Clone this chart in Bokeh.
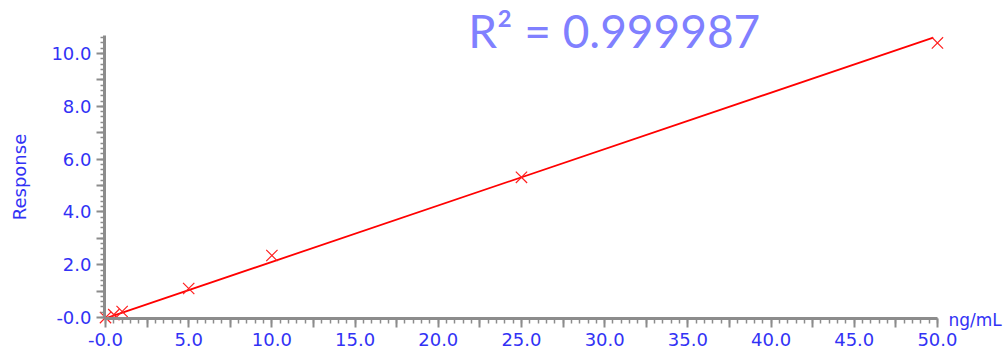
from bokeh.plotting import figure
from bokeh.models import Range1d, FixedTicker, Label, PrintfTickFormatter
from bokeh.embed import file_html
from bokeh.resources import INLINE

# calibration points (concentration ng/mL, response)
conc = [0.0, 0.5, 1.0, 5.0, 10.0, 25.0, 50.0]
response = [0.0, 0.11, 0.23, 1.10, 2.35, 5.31, 10.40]
# regression line ends
fit_x = [0.0, 49.75]
fit_y = [-0.03, 10.60]
r2_text = "R² = 0.999987"

x_major = [i * 2.5 for i in range(21)]
x_minor = [i * 0.5 for i in range(101)]
y_major = [float(i) for i in range(11)]
y_minor = [round(i * 0.2, 1) for i in range(54)]

x_overrides = {t: ("" if (t % 5) else ("-0.0" if t == 0 else "%.1f" % t)) for t in x_major}
y_overrides = {t: ("" if (t % 2) else ("-0.0" if t == 0 else "%.1f" % t)) for t in y_major}

TICK_COLOR = "#3232f5"
AXIS_COLOR = "#8c8c8c"
FONT = "DejaVu Sans"

p = figure(width=1007, height=351, output_backend="svg", toolbar_location=None,
           x_range=Range1d(-6.19, 54.09), y_range=Range1d(-1.21, 11.93),
           min_border_left=2, min_border_right=2, min_border_top=2, min_border_bottom=2)
p.grid.visible = False
p.outline_line_color = None
p.background_fill_color = "white"
p.border_fill_color = "white"

for ax in (p.xaxis[0], p.yaxis[0]):
    ax.axis_line_color = AXIS_COLOR
    ax.axis_line_width = 3
    ax.major_tick_line_color = AXIS_COLOR
    ax.minor_tick_line_color = AXIS_COLOR
    ax.major_tick_line_width = 2
    ax.minor_tick_line_width = 1.5
    ax.major_tick_in = 0
    ax.minor_tick_in = 0
    ax.major_label_text_color = TICK_COLOR
    ax.major_label_text_font = FONT
    ax.major_label_text_font_size = "18px"
    ax.formatter = PrintfTickFormatter(format="%.1f")

xa = p.xaxis[0]
xa.ticker = FixedTicker(ticks=x_major, minor_ticks=x_minor)
xa.major_label_overrides = x_overrides
xa.major_tick_out = 9
xa.minor_tick_out = 5
xa.major_label_standoff = 5
xa.bounds = (-0.06, 50.0)
xa.fixed_location = -0.05

ya = p.yaxis[0]
ya.ticker = FixedTicker(ticks=y_major, minor_ticks=y_minor)
ya.major_label_overrides = y_overrides
ya.major_tick_out = 8
ya.minor_tick_out = 4
ya.major_label_standoff = 5
ya.bounds = (-0.05, 10.68)
ya.fixed_location = -0.06
ya.axis_label = "Response"
ya.axis_label_text_color = TICK_COLOR
ya.axis_label_text_font = FONT
ya.axis_label_text_font_style = "normal"
ya.axis_label_text_font_size = "18px"
ya.axis_label_standoff = 18

p.line(fit_x, fit_y, line_color="#ff0000", line_width=1.8)
p.scatter(conc, response, marker="x", size=16, line_color="#ff2020", line_width=1.2)

p.add_layout(Label(x=50.0, y=-0.11, x_offset=11, text="ng/mL",
                   text_color=TICK_COLOR, text_font=FONT, text_font_size="17px",
                   text_baseline="middle"))
p.add_layout(Label(x=21.8, y=10.87, text=r2_text, text_color="#8080ff",
                   text_font="Lato", text_font_size="46px", text_baseline="middle"))

open("out.html", "w").write(file_html(p, INLINE))
